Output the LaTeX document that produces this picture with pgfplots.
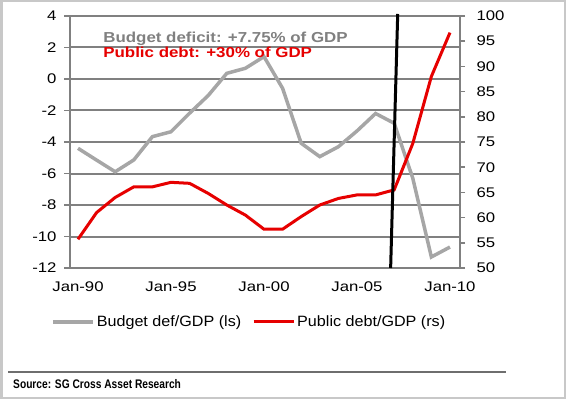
\documentclass[border=0pt]{standalone}
\usepackage{pgfplots}
\pgfplotsset{compat=1.18}
\usepackage{pgfplotstable}
\usepackage{fontspec}
\setmainfont{Liberation Sans}
\newfontfamily\wide[FakeStretch=1.2]{Liberation Sans}
\newfontfamily\annot[FakeStretch=1.17]{Liberation Sans}
\newfontfamily\legfont[FakeStretch=1.08]{Liberation Sans}
\newfontfamily\narrow[FakeStretch=0.82]{Liberation Sans}
\definecolor{gline}{RGB}{166,166,166}
\definecolor{gridc}{RGB}{128,128,128}
\definecolor{rline}{RGB}{230,0,0}
\definecolor{annotgray}{RGB}{128,128,128}
\definecolor{bordc}{RGB}{200,200,200}
\definecolor{srcline}{RGB}{110,110,110}

\pgfplotstableread{
year def debt
1990 -4.40 55.7
1991 -5.15 61.0
1992 -5.89 64.0
1993 -5.14 66.1
1994 -3.66 66.1
1995 -3.35 67.0
1996 -2.17 66.8
1997 -1.05 64.8
1998 0.36 62.5
1999 0.68 60.5
2000 1.42 57.7
2001 -0.59 57.7
2002 -4.08 60.2
2003 -4.93 62.5
2004 -4.30 63.8
2005 -3.30 64.5
2006 -2.19 64.5
2007 -2.81 65.5
2008 -6.30 74.7
2009 -11.30 88.0
2010 -10.67 96.7
}\data

\begin{document}
\begin{tikzpicture}[x=1bp,y=1bp]
\useasboundingbox (0,0) rectangle (566,399);
\draw[bordc, line width=2.5bp] (1.25,1.25) rectangle (564.75,397.75);
\draw[srcline, line width=1.3bp] (8,27) -- (506,27);
\node[anchor=base west, inner sep=0pt, font=\narrow\bfseries\fontsize{12.5}{14}\selectfont] at (13,10.7) {Source: SG Cross Asset Research};

\begin{axis}[
  at={(70bp,131bp)}, anchor=south west, scale only axis,
  width=390bp, height=252bp,
  xmin=1989.57, xmax=2010.54, ymin=-12, ymax=4,
  axis y line*=left, axis x line*=bottom,
  axis line style={gridc, line width=2bp, -},
  ytick={-12,-10,-8,-6,-4,-2,0,2,4},
  yticklabels={-12,-10,-8,-6,-4,-2,0,2,4},
  xtick={1990,1995,2000,2005,2010},
  xticklabels={Jan-90,Jan-95,Jan-00,Jan-05,Jan-10},
  ymajorgrids, grid style={gridc, line width=2bp},
  tick align=outside, major tick length=6bp,
  ytick style={gridc, line width=1.5bp},
  xtick style={draw=none},
  ticklabel style={font=\wide\fontsize{14}{14}\selectfont},
  yticklabel style={xshift=-4bp},
  xticklabel style={yshift=-4bp},
  clip=false,
]
\addplot[gline, line width=3.5bp] table[x=year,y=def]{\data};
\node[anchor=base west, inner sep=0pt, annotgray, font=\annot\bfseries\fontsize{14.5}{15}\selectfont] at (rel axis cs:0.085,0.8956) {Budget deficit: +7.75\% of GDP};
\node[anchor=base west, inner sep=0pt, rline, font=\annot\bfseries\fontsize{14.5}{15}\selectfont] at (rel axis cs:0.085,0.8345) {Public debt: +30\% of GDP};
\end{axis}

\begin{axis}[
  at={(70bp,131bp)}, anchor=south west, scale only axis,
  width=390bp, height=252bp,
  xmin=1989.57, xmax=2010.54, ymin=50, ymax=100,
  axis y line*=right, axis x line=none,
  axis line style={gridc, line width=2bp, -},
  ytick={50,55,60,65,70,75,80,85,90,95,100},
  yticklabels={50,55,60,65,70,75,80,85,90,95,100},
  tick align=outside, major tick length=5bp,
  ytick style={gridc, line width=1.5bp},
  ticklabel style={font=\wide\fontsize{14}{14}\selectfont},
  yticklabel style={xshift=8bp},
  clip=false,
  legend columns=2,
  legend style={draw=none, fill=none, at={(0.459,-0.214)}, anchor=center,
    font=\legfont\fontsize{15}{16}\selectfont,
    /tikz/every even column/.append style={column sep=9bp}},
  legend image code/.code={\draw[#1] (0bp,0bp) -- (40bp,0bp);},
]
\addlegendimage{gline, line width=4bp}
\addlegendentry{Budget def/GDP (ls)}
\addplot[rline, line width=3bp] table[x=year,y=debt]{\data};
\addlegendentry{Public debt/GDP (rs)}
\addplot[black, line width=3bp, forget plot] coordinates {(2007.19,100.4) (2006.81,50)};
\end{axis}
\end{tikzpicture}
\end{document}
